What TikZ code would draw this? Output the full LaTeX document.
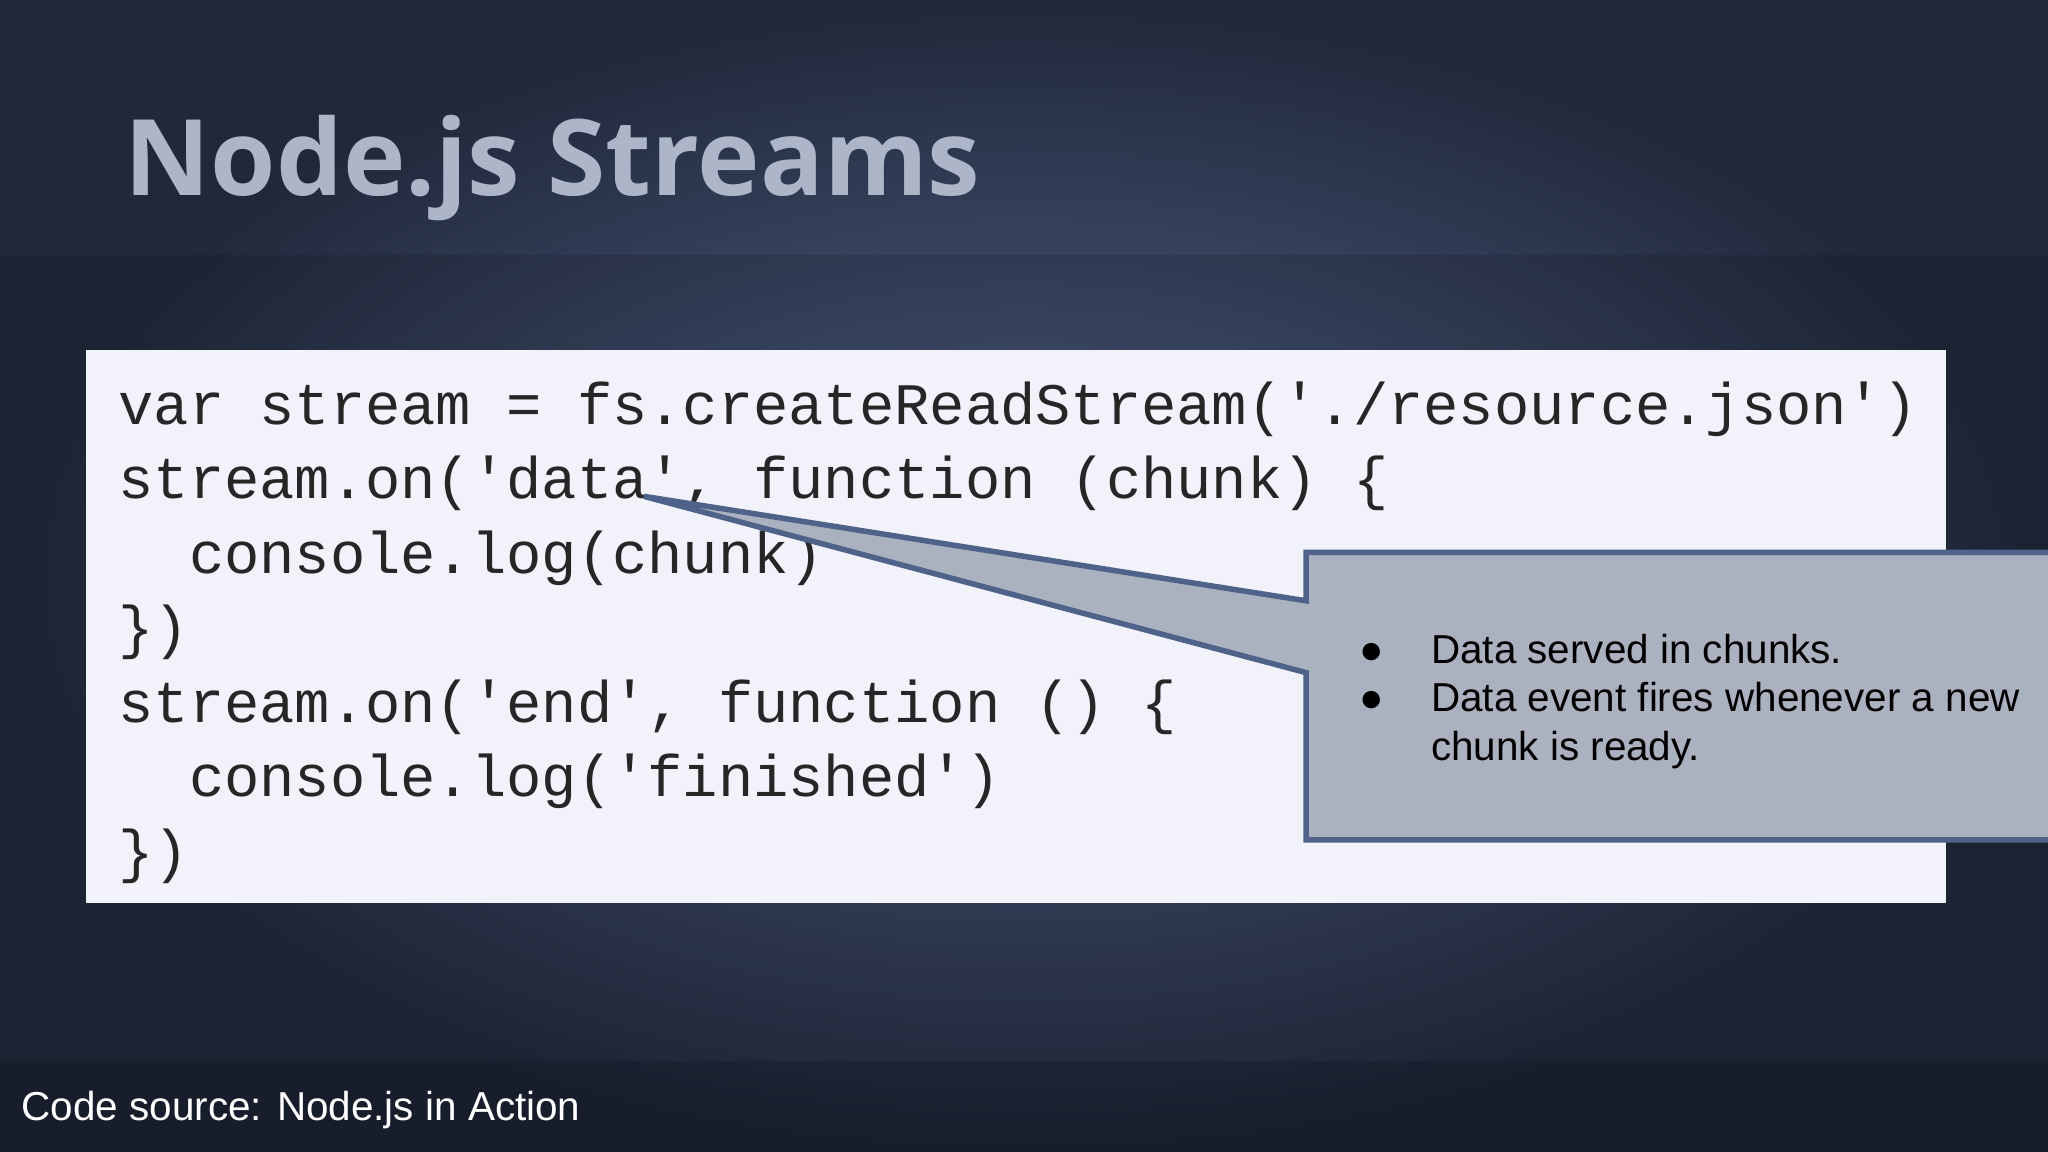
\documentclass[tikz,border=0pt]{standalone}
\usepackage{fontspec}
\setmainfont{Liberation Sans}
\newfontfamily\titlefont{Open Sans}
\newfontfamily\codefont{Liberation Mono}
\definecolor{bgedge}{RGB}{32,40,58}
\definecolor{bgmid}{RGB}{84,100,140}
\definecolor{titlegray}{RGB}{172,182,200}
\definecolor{codebg}{RGB}{242,242,250}
\definecolor{calloutfill}{RGB}{170,178,192}
\definecolor{calloutline}{RGB}{78,98,138}
\tikzset{
  codeline/.style={anchor=base west, inner sep=0pt, font=\codefont\fontsize{12.8}{14}\selectfont, text=black!85},
  bullettext/.style={anchor=base west, inner sep=0pt, font=\fontsize{8.8}{10}\selectfont, text=black}
}
\begin{document}
\begin{tikzpicture}[x=0.01cm,y=-0.01cm]

%background
\useasboundingbox (0,0) rectangle (1568,882);
\shade[inner color=bgmid, outer color=bgedge] (0,0) rectangle (1568,882);
\fill[black, opacity=0.12] (0,195) rectangle (1568,812);
\fill[black, opacity=0.25] (0,812) rectangle (1568,882);

%title
\node [anchor=base west, inner sep=0pt, text=titlegray, font=\titlefont\bfseries\fontsize{23}{26}\selectfont] (title) at (95,150) {Node.js Streams};

%code box
\fill [codebg] (66,268) rectangle (1490,691);
\node [codeline] (l1) at (90,325) {var stream = fs.createReadStream('./resource.json')};
\node [codeline] (l2) at (90,382) {stream.on('data', function (chunk) \{};
\node [codeline] (l3) at (90,439) {\ \ console.log(chunk)};
\node [codeline] (l4) at (90,496) {\})};
\node [codeline] (l5) at (90,553) {stream.on('end', function () \{};
\node [codeline] (l6) at (90,610) {\ \ console.log('finished')};
\node [codeline] (l7) at (90,667) {\})};

%callout
\coordinate (tip) at (493,380);
\draw [fill=calloutfill, draw=calloutline, line width=1.2pt]
  (1000,423) -- (1575,423) -- (1575,643) -- (1000,643) -- (1000,515) -- (tip) -- (1000,460) -- cycle;
\node [bullettext] (b1) at (1040,508) {●};
\node [bullettext] (t1) at (1095,508) {Data served in chunks.};
\node [bullettext] (b2) at (1040,545) {●};
\node [bullettext] (t2) at (1095,545) {Data event fires whenever a new};
\node [bullettext] (t3) at (1095,582) {chunk is ready.};

%footer
\node [anchor=base west, inner sep=0pt, text=white, font=\fontsize{8.8}{10}\selectfont] (source) at (16,858) {Code source: Node.js in Action};

\end{tikzpicture}
\end{document}
